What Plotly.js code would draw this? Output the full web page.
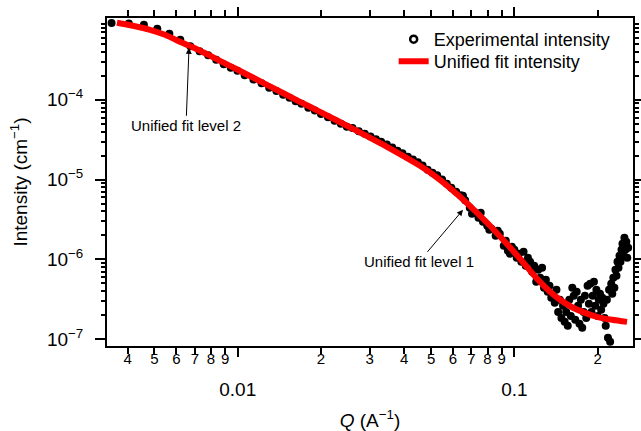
<!DOCTYPE html>
<html>
<head>
<meta charset="utf-8">
<script src="https://cdn.plot.ly/plotly-3.0.1.min.js"></script>
<style>html,body{margin:0;padding:0;background:#fff;}#chart{width:641px;height:431px;}</style>
</head>
<body>
<div id="chart"></div>
<script>
// Experimental SAXS intensity (Q in A^-1, I in cm^-1)
const expQ = [
  0.00350, 0.00404, 0.00458, 0.00512, 0.00566, 0.00620, 0.00674, 0.00728, 0.00782, 0.00836, 0.00890, 0.00944, 0.00998,
  0.0106, 0.0114, 0.0122, 0.0130, 0.0138, 0.0146, 0.0154, 0.0162, 0.0170, 0.0180, 0.0190, 0.0200, 0.0212, 0.0224, 0.0236, 0.0248, 0.0260, 0.0274, 0.0288, 0.0302,
  0.0316, 0.0330, 0.0346, 0.0362, 0.0378, 0.0394, 0.0412, 0.0430, 0.0448, 0.0466, 0.0486, 0.0506, 0.0526, 0.0548, 0.0570, 0.0592, 0.0616, 0.0640, 0.0652, 0.0664, 0.0690, 0.0703, 0.0716, 0.0742, 0.0756, 0.0770, 0.0798, 0.0812, 0.0826, 0.0856, 0.0871, 0.0886, 0.0916, 0.0932, 0.0948, 0.0964, 0.0980,
  0.100, 0.102, 0.104, 0.106, 0.108, 0.110, 0.112, 0.114, 0.116, 0.118, 0.120, 0.122, 0.124, 0.126, 0.128, 0.130, 0.132, 0.134, 0.136, 0.138,
  0.140, 0.142, 0.144, 0.146, 0.148, 0.150, 0.152, 0.154, 0.156, 0.158, 0.160, 0.162, 0.164, 0.166, 0.168, 0.170, 0.172, 0.174, 0.176, 0.178,
  0.180, 0.182, 0.184, 0.186, 0.188, 0.190, 0.192, 0.194, 0.196, 0.198, 0.200, 0.202, 0.204, 0.206, 0.208, 0.210, 0.212, 0.214, 0.216, 0.218,
  0.220, 0.222, 0.224, 0.226, 0.228, 0.230, 0.232, 0.234, 0.236, 0.238, 0.240, 0.242, 0.244, 0.246, 0.248, 0.250, 0.252, 0.254, 0.256, 0.258
];
const expI = [
  9.15e-4, 9.01e-4, 8.71e-4, 7.76e-4, 6.72e-4, 5.65e-4, 4.68e-4, 4.05e-4, 3.61e-4, 3.17e-4, 2.79e-4, 2.53e-4, 2.31e-4,
  2.03e-4, 1.79e-4, 1.61e-4, 1.42e-4, 1.29e-4, 1.16e-4, 1.06e-4, 9.60e-5, 8.91e-5, 7.96e-5, 7.32e-5, 6.64e-5, 6.05e-5, 5.45e-5, 5.00e-5, 4.59e-5, 4.43e-5, 4.05e-5, 3.75e-5, 3.46e-5,
  3.20e-5, 2.98e-5, 2.75e-5, 2.52e-5, 2.30e-5, 2.14e-5, 1.93e-5, 1.78e-5, 1.65e-5, 1.50e-5, 1.33e-5, 1.22e-5, 1.13e-5, 1.00e-5, 8.86e-6, 7.89e-6, 7.03e-6, 6.36e-6, 6.27e-6, 5.50e-6, 4.43e-6, 3.73e-6, 3.89e-6, 3.32e-6, 3.84e-6, 2.96e-6, 2.64e-6, 2.35e-6, 2.42e-6, 1.98e-6, 2.28e-6, 2.09e-6, 1.48e-6, 1.71e-6, 1.28e-6, 1.18e-6, 1.44e-6,
  1.32e-6, 1.05e-6, 1.18e-6, 9.33e-7, 1.25e-6, 8.31e-7, 1.05e-6, 9.33e-7, 6.99e-7, 8.31e-7, 5.24e-7, 7.41e-7, 5.88e-7, 7.85e-7, 4.41e-7, 5.55e-7, 3.93e-7, 4.67e-7, 3.30e-7, 3.71e-7,
  2.86e-7, 4.16e-7, 2.20e-7, 3.12e-7, 1.85e-7, 2.62e-7, 1.65e-7, 2.20e-7, 1.47e-7, 3.12e-7, 1.96e-7, 4.41e-7, 3.50e-7, 1.75e-7, 3.93e-7, 2.62e-7, 1.56e-7, 3.12e-7, 1.39e-7, 2.20e-7,
  3.50e-7, 1.85e-7, 4.67e-7, 2.78e-7, 4.94e-7, 2.20e-7, 3.50e-7, 5.24e-7, 2.62e-7, 4.16e-7, 1.96e-7, 3.12e-7, 3.71e-7, 2.34e-7, 3.30e-7, 2.78e-7, 1.85e-7, 1.47e-7, 3.12e-7, 1.04e-7,
  4.16e-7, 9.28e-8, 4.94e-7, 3.71e-7, 5.88e-7, 4.41e-7, 7.41e-7, 6.23e-7, 9.33e-7, 7.85e-7, 1.11e-6, 9.33e-7, 1.32e-6, 1.57e-6, 1.11e-6, 1.87e-6, 1.32e-6, 1.66e-6, 1.05e-6, 1.40e-6
];

// Unified fit intensity
const fitQ = [0.00366, 0.00418, 0.00482, 0.00546, 0.00618, 0.00731, 0.00863, 0.0100, 0.01276, 0.01680, 0.01984, 0.02611, 0.03466, 0.04562, 0.05387, 0.06363, 0.07209, 0.08170, 0.09104, 0.10486, 0.12083, 0.13462, 0.14632, 0.16303, 0.18013, 0.19907, 0.22553, 0.25554];
const fitI = [9.22e-4, 8.46e-4, 7.54e-4, 6.52e-4, 5.33e-4, 4.11e-4, 3.08e-4, 2.38e-4, 1.54e-4, 9.44e-5, 7.07e-5, 4.33e-5, 2.58e-5, 1.49e-5, 9.94e-6, 6.09e-6, 4.06e-6, 2.64e-6, 1.76e-6, 1.02e-6, 5.71e-7, 3.93e-7, 3.12e-7, 2.48e-7, 2.14e-7, 1.91e-7, 1.75e-7, 1.65e-7];

// Tick labels
const xMinorVals = [0.004, 0.005, 0.006, 0.007, 0.008, 0.009, 0.02, 0.03, 0.04, 0.05, 0.06, 0.07, 0.08, 0.09, 0.2];
const xMinorText = ['4', '5', '6', '7', '8', '9', '2', '3', '4', '5', '6', '7', '8', '9', '2'];
const xMajorVals = [0.01, 0.1];
const xMajorText = ['0.01', '0.1'];
const yMajorVals = [1e-7, 1e-6, 1e-5, 1e-4];
const yMajorText = ['10<sup>\u22127</sup>', '10<sup>\u22126</sup>', '10<sup>\u22125</sup>', '10<sup>\u22124</sup>'];
const yMinorVals = [2e-7, 3e-7, 4e-7, 5e-7, 6e-7, 7e-7, 8e-7, 9e-7,
                    2e-6, 3e-6, 4e-6, 5e-6, 6e-6, 7e-6, 8e-6, 9e-6,
                    2e-5, 3e-5, 4e-5, 5e-5, 6e-5, 7e-5, 8e-5, 9e-5,
                    2e-4, 3e-4, 4e-4, 5e-4, 6e-4, 7e-4, 8e-4, 9e-4];
const yMinorText = yMinorVals.map(() => '');

const FONT = 'Liberation Sans, Arial, Helvetica, sans-serif';
const xRange = [-2.4725, -0.571];
const yRange = [-7.085, -2.975];

const traces = [
  { // legend entry for the experimental data (no points; also carries the overlay axes)
    x: [null], y: [null], xaxis: 'x2', yaxis: 'y2',
    type: 'scatter', mode: 'markers', name: 'Experimental intensity', legend: 'legend',
    marker: { symbol: 'circle-open', size: 7, color: '#000', line: { width: 2.5, color: '#000' } },
    hoverinfo: 'skip'
  },
  {
    x: expQ, y: expI, type: 'scatter', mode: 'markers', name: 'Experimental intensity',
    showlegend: false, cliponaxis: true,
    marker: { symbol: 'circle', size: 8, color: '#000' }
  },
  {
    x: fitQ, y: fitI, type: 'scatter', mode: 'lines', name: 'Unified fit intensity', legend: 'legend2',
    line: { color: '#ff0000', width: 6, shape: 'spline', smoothing: 0.8 }
  }
];

const legendCommon = {
  xanchor: 'left', yanchor: 'top',
  bgcolor: 'rgba(0,0,0,0)', font: { size: 18, family: FONT, color: '#000' },
  tracegroupgap: 0, itemwidth: 30
};

const layout = {
  width: 641, height: 431,
  margin: { l: 107, r: 8, t: 18, b: 85 },
  paper_bgcolor: '#fff', plot_bgcolor: '#fff',
  font: { family: FONT, color: '#000' },
  showlegend: true,
  legend: Object.assign({ x: 0.545, y: 0.991 }, legendCommon),
  legend2: Object.assign({ x: 0.545, y: 0.924 }, legendCommon),
  xaxis: {
    type: 'log', range: xRange,
    tickmode: 'array', tickvals: xMinorVals, ticktext: xMinorText,
    ticks: 'outside', ticklen: 6, tickwidth: 2, tickcolor: '#000',
    tickfont: { size: 15, family: FONT, color: '#000' },
    ticklabelstandoff: -8,
    showline: true, linewidth: 2, linecolor: '#000', mirror: 'ticks',
    showgrid: false, zeroline: false
  },
  xaxis2: {
    type: 'log', range: xRange, overlaying: 'x', anchor: 'y', side: 'bottom',
    tickmode: 'array', tickvals: xMajorVals, ticktext: xMajorText,
    ticks: 'outside', ticklen: 10, tickwidth: 2, tickcolor: '#000',
    tickfont: { size: 19, family: FONT, color: '#000' },
    ticklabelstandoff: 16,
    showline: false, mirror: 'ticks',
    showgrid: false, zeroline: false,
    title: { text: '<i>Q</i> (A<sup>\u22121</sup>)', font: { size: 19, family: FONT, color: '#000' }, standoff: 15 }
  },
  yaxis: {
    type: 'log', range: yRange,
    tickmode: 'array', tickvals: yMajorVals, ticktext: yMajorText,
    ticks: 'outside', ticklen: 10, tickwidth: 2, tickcolor: '#000',
    tickfont: { size: 19, family: FONT, color: '#000' },
    ticklabelstandoff: 8,
    showline: true, linewidth: 2, linecolor: '#000', mirror: 'ticks',
    showgrid: false, zeroline: false,
    title: { text: 'Intensity (cm<sup>\u22121</sup>)', font: { size: 19, family: FONT, color: '#000' }, standoff: 14 }
  },
  yaxis2: {
    type: 'log', range: yRange, overlaying: 'y', anchor: 'x', side: 'left',
    tickmode: 'array', tickvals: yMinorVals, ticktext: yMinorText,
    ticks: 'outside', ticklen: 5, tickwidth: 2, tickcolor: '#000',
    showticklabels: false,
    showline: false, mirror: 'ticks',
    showgrid: false, zeroline: false
  },
  annotations: [
    {
      xref: 'x', yref: 'y', x: -2.176, y: -3.348,
      text: 'Unified fit level 2', showarrow: true,
      ax: -3, ay: 78, axref: 'pixel', ayref: 'pixel',
      arrowhead: 2, arrowsize: 1.2, arrowwidth: 1, arrowcolor: '#000',
      font: { size: 15, family: FONT, color: '#000' }
    },
    {
      xref: 'x', yref: 'y', x: -1.1855, y: -5.3785,
      text: 'Unified fit level 1', showarrow: true,
      ax: -44, ay: 52, axref: 'pixel', ayref: 'pixel',
      arrowhead: 2, arrowsize: 1.2, arrowwidth: 1, arrowcolor: '#000',
      font: { size: 15, family: FONT, color: '#000' }
    }
  ]
};

Plotly.newPlot('chart', traces, layout, { displayModeBar: false, staticPlot: true });
</script>
</body>
</html>
